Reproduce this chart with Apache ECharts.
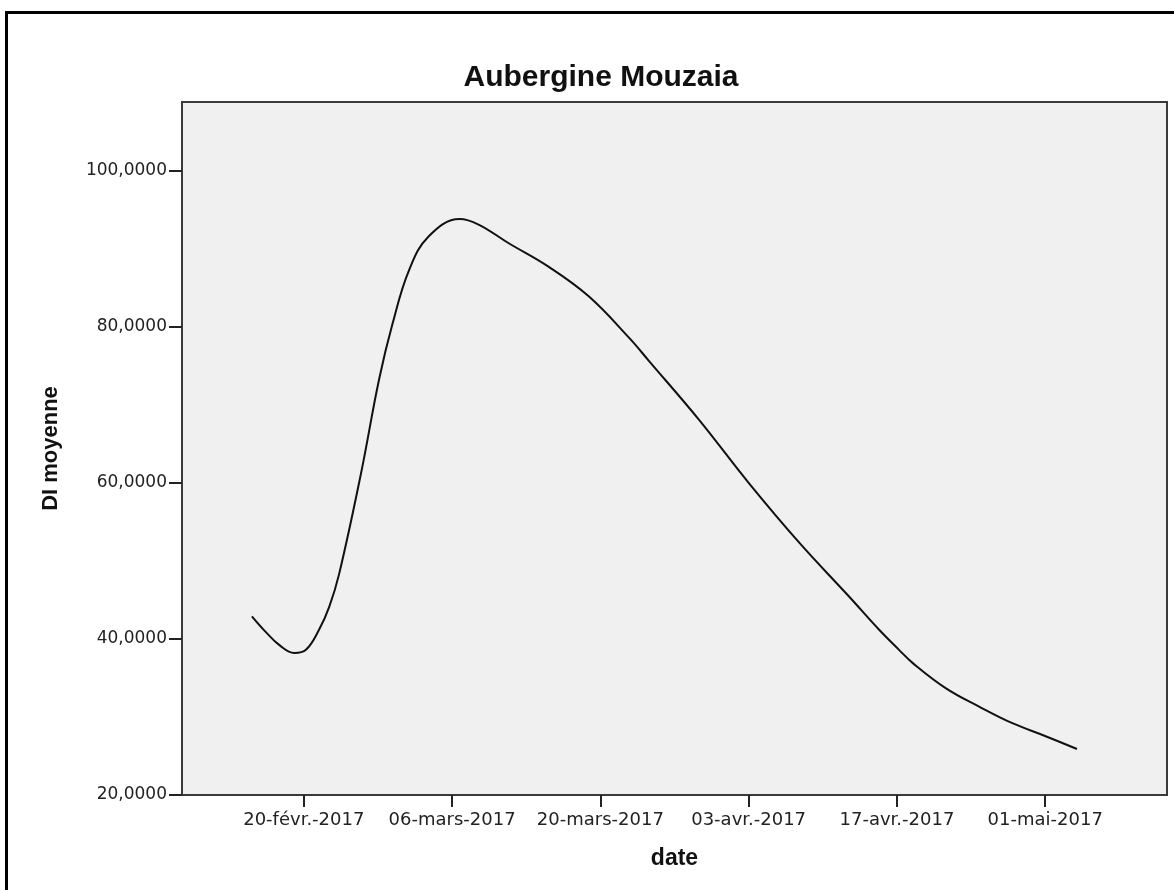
<!DOCTYPE html>
<html>
<head>
<meta charset="utf-8">
<script src="https://cdn.jsdelivr.net/npm/echarts@6/dist/echarts.min.js"></script>
<style>
html,body{margin:0;padding:0;background:#fff;}
#chart{width:1174px;height:890px;}
</style>
</head>
<body>
<div id="chart"></div>
<script>
// ---- data ----
const refDate = '2017-02-20';
// days after 20-févr.-2017 of points
const dayOffsets = [-4.9, -3.6, -2.3, -0.9, 0.2, 1.45, 2.4, 3.35, 5.4, 7.1, 8.4, 9.95, 11.8, 14.7, 16.5, 19.35, 23.1, 26.9, 30.7, 32.6, 37.3, 42.0, 46.8, 51.5, 54.3, 56.2, 57.5, 60.6, 63.8, 66.9, 70.1, 73.0];
const dlMeans    = [42.9, 40.9, 39.2, 38.2, 38.6, 41.2, 44.1, 48.4, 61.2, 73.2, 80.5, 87.3, 91.6, 93.8, 93.1, 90.7, 87.7, 83.9, 78.6, 75.6, 68.1, 60.0, 52.3, 45.4, 41.2, 38.6, 36.9, 33.7, 31.3, 29.2, 27.5, 25.9];
const xTickDates  = ['2017-02-20', '2017-03-06', '2017-03-20', '2017-04-03', '2017-04-17', '2017-05-01'];
const xTickLabels = ['20-févr.-2017', '06-mars-2017', '20-mars-2017', '03-avr.-2017', '17-avr.-2017', '01-mai-2017'];
const yTickValues = [20, 40, 60, 80, 100];
const yTickLabels = ['20,0000', '40,0000', '60,0000', '80,0000', '100,0000'];

const DAY = 86400000;
const dayOf = s => Math.round((Date.parse(s) - Date.parse(refDate)) / DAY);
const xTickPos = xTickDates.map(dayOf);
const seriesData = dayOffsets.map((d, i) => [d, dlMeans[i]]);

const chart = echarts.init(document.getElementById('chart'), null, {renderer: 'canvas'});
chart.setOption({
  animation: false,
  backgroundColor: '#ffffff',
  title: {
    text: 'Aubergine Mouzaia',
    left: 596,
    top: 58,
    textAlign: 'center',
    textStyle: {fontFamily: 'Liberation Sans', fontWeight: 'bold', fontSize: 30, color: '#111'}
  },
  graphic: [{
    type: 'rect', silent: true, z: 100,
    shape: {x: 6.5, y: 12.5, width: 1300, height: 1000},
    style: {fill: 'none', stroke: '#000', lineWidth: 3}
  }],
  grid: {
    left: 182, top: 102, right: 7, bottom: 95,
    show: true, backgroundColor: '#f0f0f0', borderColor: '#3a3a3a', borderWidth: 2
  },
  xAxis: {
    type: 'value',
    min: -11.5, max: 81.5,
    name: 'date', nameLocation: 'middle', nameGap: 52,
    nameTextStyle: {fontFamily: 'Liberation Sans', fontWeight: 'bold', fontSize: 23, color: '#111'},
    axisLine: {show: true, onZero: false, lineStyle: {color: '#3a3a3a', width: 2}},
    axisTick: {show: true, length: 12, customValues: xTickPos, lineStyle: {color: '#222', width: 2}},
    axisLabel: {
      customValues: xTickPos, margin: 16,
      fontFamily: 'DejaVu Sans', fontSize: 18, color: '#222',
      formatter: v => { const i = xTickPos.indexOf(Math.round(v)); return i >= 0 ? xTickLabels[i] : ''; }
    },
    splitLine: {show: false}
  },
  yAxis: {
    type: 'value',
    min: 20, max: 108.8,
    name: 'DI moyenne', nameLocation: 'middle', nameRotate: 90, nameGap: 120,
    nameTextStyle: {fontFamily: 'Liberation Sans', fontWeight: 'bold', fontSize: 22, color: '#111'},
    axisLine: {show: true, onZero: false, lineStyle: {color: '#3a3a3a', width: 2}},
    axisTick: {show: true, length: 13, customValues: yTickValues, lineStyle: {color: '#222', width: 2}},
    axisLabel: {
      customValues: yTickValues, margin: 15,
      fontFamily: 'DejaVu Sans', fontSize: 17, color: '#222',
      formatter: v => { const i = yTickValues.indexOf(Math.round(v)); return i >= 0 ? yTickLabels[i] : ''; }
    },
    splitLine: {show: false}
  },
  series: [{
    type: 'line',
    data: seriesData,
    smooth: 0.4,
    showSymbol: false,
    lineStyle: {color: '#111', width: 2}
  }]
});
</script>
</body>
</html>
